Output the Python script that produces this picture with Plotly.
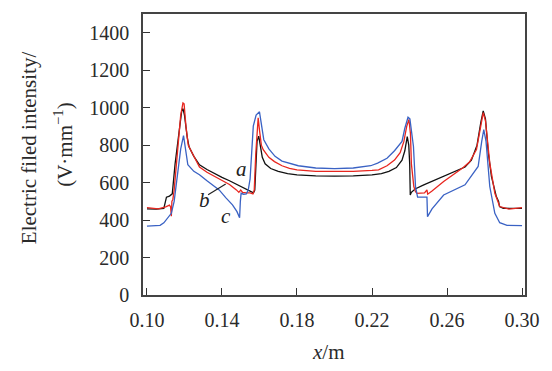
import plotly.graph_objects as go

# Curve a (black)
x_a = [0.100, 0.105, 0.109, 0.1104, 0.112, 0.1135, 0.1150, 0.1170, 0.1185, 0.1192, 0.1200, 0.1215,
       0.1225, 0.1250, 0.1280, 0.1320, 0.1360, 0.1400, 0.1440, 0.1480, 0.1520, 0.1550, 0.1568, 0.1575,
       0.1580, 0.1587, 0.1596, 0.1605, 0.1615, 0.1630, 0.1660, 0.1700, 0.1750, 0.1800, 0.1900, 0.2000,
       0.2100, 0.2200, 0.2250, 0.2290, 0.2330, 0.2360, 0.2375, 0.2388, 0.2396, 0.2401, 0.2404, 0.2410,
       0.2430, 0.2476, 0.2582, 0.2650, 0.2696, 0.2730, 0.2760, 0.2780, 0.2793, 0.2805, 0.2820, 0.2837,
       0.2863, 0.2875, 0.2880, 0.2900, 0.3000]
y_a = [460, 458, 462, 522, 528, 540, 700, 880, 980, 995, 960, 840,
       790, 740, 695, 670, 648, 628, 610, 590, 568, 552, 545, 560,
       700, 820, 848, 780, 735, 700, 675, 660, 648, 641, 636, 635,
       636, 641, 648, 660, 680, 720, 770, 845, 800, 700, 534, 548,
       566, 588, 632, 660, 683, 720, 800, 920, 983, 940, 760, 632,
       525, 500, 472, 463, 462]

# Curve b (red)
x_b = [0.100, 0.103, 0.106, 0.110, 0.1120, 0.1126, 0.1130, 0.1133, 0.1138, 0.1145, 0.1160, 0.1180,
       0.1192, 0.1198, 0.1208, 0.1220, 0.1235, 0.1260, 0.1280, 0.1320, 0.1360, 0.1400, 0.1440, 0.1477,
       0.1490, 0.1500, 0.1510, 0.1530, 0.1550, 0.1565, 0.1572, 0.1580, 0.1588, 0.1593, 0.1600, 0.1610,
       0.1620, 0.1650, 0.1680, 0.1720, 0.1760, 0.1800, 0.1900, 0.2000, 0.2100, 0.2200, 0.2235, 0.2280,
       0.2320, 0.2350, 0.2370, 0.2385, 0.2397, 0.2405, 0.2410, 0.2423, 0.2432, 0.2440, 0.2480, 0.2493,
       0.2497, 0.2520, 0.2582, 0.2683, 0.2720, 0.2757, 0.2780, 0.2793, 0.2805, 0.2828, 0.2855, 0.2881,
       0.2930, 0.2986, 0.3000]
y_b = [466, 462, 460, 470, 480, 470, 420, 500, 510, 560, 750, 960,
       1025, 1020, 900, 800, 770, 720, 683, 655, 632, 612, 590, 561,
       548, 560, 548, 545, 545, 540, 560, 750, 920, 946, 880, 800,
       776, 735, 712, 690, 676, 668, 660, 658, 660, 665, 668, 690,
       720, 760, 820, 900, 937, 860, 700, 579, 552, 543, 545, 561,
       538, 555, 606, 678, 710, 776, 900, 973, 930, 704, 543, 472,
       458, 466, 466]

# Curve c (blue)
x_c = [0.100, 0.104, 0.107, 0.109, 0.111, 0.113, 0.1145, 0.1160, 0.1180, 0.1195, 0.1205, 0.1218,
       0.1250, 0.1280, 0.1320, 0.1385, 0.1420, 0.1456, 0.1480, 0.1494, 0.1498, 0.1502, 0.1515, 0.1530,
       0.1540, 0.1550, 0.1567, 0.1582, 0.1600, 0.1612, 0.1623, 0.1650, 0.1683, 0.1720, 0.1807, 0.1900,
       0.2000, 0.2100, 0.2193, 0.2230, 0.2280, 0.2320, 0.2360, 0.2375, 0.2392, 0.2402, 0.2412, 0.2421,
       0.2432, 0.2443, 0.2493, 0.2496, 0.2520, 0.2582, 0.2696, 0.2766, 0.2785, 0.2796, 0.2808, 0.2828,
       0.2855, 0.2881, 0.2920, 0.2986, 0.3000]
y_c = [368, 368, 372, 385, 410, 436, 500, 620, 780, 851, 790, 695,
       660, 642, 610, 561, 520, 481, 445, 412, 500, 543, 538, 540,
       560, 620, 901, 960, 978, 900, 829, 780, 740, 715, 690, 678,
       675, 678, 690, 704, 730, 770, 820, 890, 949, 940, 850, 793,
       579, 522, 522, 418, 460, 534, 588, 686, 820, 883, 820, 579,
       436, 386, 372, 370, 370]

x_ticks = [0.10, 0.14, 0.18, 0.22, 0.26, 0.30]
x_tick_labels = ["0.10", "0.14", "0.18", "0.22", "0.26", "0.30"]
y_ticks = [0, 200, 400, 600, 800, 1000, 1200, 1400]

FONT = "'Liberation Serif', 'Times New Roman', Times, serif"
TXT = "#2a2a2a"

fig = go.Figure()
fig.add_trace(go.Scatter(x=x_a, y=y_a, mode="lines", line=dict(color="#111111", width=1.3), name="a"))
fig.add_trace(go.Scatter(x=x_b, y=y_b, mode="lines", line=dict(color="#e8261f", width=1.3), name="b"))
fig.add_trace(go.Scatter(x=x_c, y=y_c, mode="lines", line=dict(color="#3a62c4", width=1.3), name="c"))

fig.update_layout(
    width=552, height=371,
    margin=dict(l=143, r=23, t=14, b=76),
    paper_bgcolor="white", plot_bgcolor="white",
    showlegend=False,
    font=dict(family=FONT, size=20, color=TXT),
    xaxis=dict(range=[0.09789, 0.30158], tickvals=x_ticks, ticktext=x_tick_labels,
               ticks="inside", ticklen=7, tickcolor="#333333", tickwidth=1.2,
               showline=True, linecolor="#444444", linewidth=1.5, mirror=True,
               showgrid=False, zeroline=False, ticklabelstandoff=6),
    yaxis=dict(range=[0, 1500], tickvals=y_ticks,
               ticks="inside", ticklen=7, tickcolor="#333333", tickwidth=1.2,
               showline=True, linecolor="#444444", linewidth=1.5, mirror=True,
               showgrid=False, zeroline=False, ticklabelstandoff=8),
)

# axis titles
fig.add_annotation(xref="paper", yref="paper", x=(330 - 143) / 386, y=(371 - 352 - 76) / 281,
                   text="<i>x</i>/m", showarrow=False, font=dict(size=21, family=FONT, color=TXT),
                   xanchor="center", yanchor="middle")
fig.add_annotation(xref="paper", yref="paper", x=(28 - 143) / 386, y=(295 - 148) / 281,
                   text="Electric filed intensity/", textangle=-90, showarrow=False,
                   font=dict(size=21, family=FONT, color=TXT), xanchor="center", yanchor="middle")
fig.add_annotation(xref="paper", yref="paper", x=(62 - 143) / 386, y=(295 - 145) / 281,
                   text="(V·mm<sup>−1</sup>)", textangle=-90, showarrow=False,
                   font=dict(size=21, family=FONT, color=TXT), xanchor="center", yanchor="middle")

# curve labels
fig.add_annotation(x=0.1506, y=675, text="<i>a</i>", showarrow=False,
                   font=dict(size=21, family=FONT, color="#222222"))
fig.add_annotation(x=0.1306, y=505, text="<i>b</i>", showarrow=False,
                   font=dict(size=21, family=FONT, color="#222222"))
fig.add_annotation(x=0.1419, y=420, text="<i>c</i>", showarrow=False,
                   font=dict(size=21, family=FONT, color="#222222"))
fig.add_shape(type="line", x0=0.1326, y0=535, x1=0.1420, y1=593,
              line=dict(color="#222222", width=1.2))

fig.write_html("out.html", config={"displayModeBar": False},
               post_script="document.body.style.margin='0';")
